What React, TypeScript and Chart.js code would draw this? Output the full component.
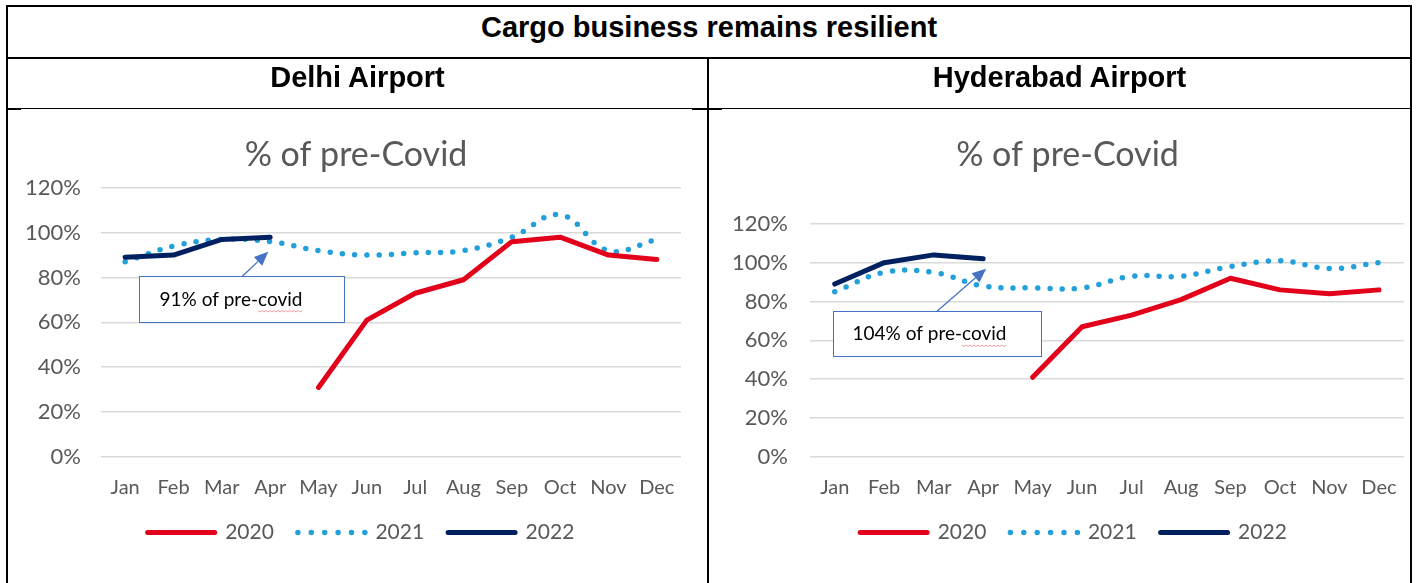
import React, { useEffect, useRef } from 'react';
import { Chart, registerables } from 'chart.js';

Chart.register(...registerables);

// ---------- data ----------
const MONTHS = ['Jan', 'Feb', 'Mar', 'Apr', 'May', 'Jun', 'Jul', 'Aug', 'Sep', 'Oct', 'Nov', 'Dec'];
const YEARS = ['2020', '2021', '2022'];

const DELHI_2020 = [null, null, null, null, 31, 61, 73, 79, 96, 98, 90, 88];
const DELHI_2021 = [87, 94, 97, 96, 92, 90, 91, 92, 98, 108, 92, 97];
const DELHI_2022 = [89, 90, 97, 98, null, null, null, null, null, null, null, null];

const HYD_2020 = [null, null, null, null, 41, 67, 73, 81, 92, 86, 84, 86];
const HYD_2021 = [85, 95, 95, 88, 87, 87, 93, 93, 98, 101, 97, 100];
const HYD_2022 = [89, 100, 104, 102, null, null, null, null, null, null, null, null];

const Y_MIN = 0;
const Y_MAX = 120;
const Y_STEP = 20;

const PAGE_TITLE = 'Cargo business remains resilient';
const PANEL_TITLES = ['Delhi Airport', 'Hyderabad Airport'];
const CHART_TITLE = '% of pre-Covid';
const CALLOUT_TEXTS = ['91% of pre-covid', '104% of pre-covid'];

// ---------- styles ----------
const COLORS = ['#E2001A', '#23A0DA', '#002060'];
const FONT = 'Lato, "Noto Sans", sans-serif';
const GREY = '#595959';
const LEGEND_LINE = 67;

// nudges the title / legend blocks horizontally after layout
const shiftPlugin = {
  id: 'blockShift',
  afterLayout(chart: any, _args: any, opts: any) {
    if (!opts) return;
    if (chart.titleBlock && opts.title) {
      chart.titleBlock.left += opts.title;
      chart.titleBlock.right += opts.title;
    }
    if (chart.legend && opts.legend) {
      chart.legend.left += opts.legend;
      chart.legend.right += opts.legend;
    }
  },
};

const calloutPlugin = {
  id: 'callout',
  afterDatasetsDraw(chart: any, _args: any, opts: any) {
    if (!opts || !opts.text) return;
    const { ctx } = chart;
    const xs = chart.scales.x;
    const ys = chart.scales.y;
    const x0 = Math.round(xs.getPixelForValue(opts.box[0])) + 0.5;
    const x1 = Math.round(xs.getPixelForValue(opts.box[1])) + 0.5;
    const y0 = Math.round(ys.getPixelForValue(opts.box[2])) + 0.5;
    const y1 = Math.round(ys.getPixelForValue(opts.box[3])) + 0.5;
    ctx.save();
    ctx.fillStyle = '#ffffff';
    ctx.fillRect(x0, y0, x1 - x0, y1 - y0);
    ctx.strokeStyle = '#4472C4';
    ctx.lineWidth = 1;
    ctx.strokeRect(x0, y0, x1 - x0, y1 - y0);
    ctx.font = `19px ${FONT}`;
    ctx.fillStyle = '#000000';
    ctx.textBaseline = 'middle';
    ctx.textAlign = 'left';
    const tx = x0 + opts.inset;
    const ty = (y0 + y1) / 2;
    ctx.fillText(opts.text, tx, ty);
    // spell-check squiggle under the last word
    const words = opts.text.split('-');
    const last = words[words.length - 1];
    const startX = tx + ctx.measureText(opts.text.slice(0, opts.text.length - last.length)).width;
    const endX = tx + ctx.measureText(opts.text).width;
    ctx.strokeStyle = '#F4A0A0';
    ctx.lineWidth = 1;
    ctx.beginPath();
    let up = true;
    for (let sx = startX; sx <= endX; sx += 2) {
      const sy = ty + 11 + (up ? 0 : 1.5);
      if (sx === startX) ctx.moveTo(sx, sy); else ctx.lineTo(sx, sy);
      up = !up;
    }
    ctx.stroke();
    // arrow
    const ax = xs.getPixelForValue(opts.arrow[0]);
    const ay = y0;
    const bx = xs.getPixelForValue(opts.arrow[1]);
    const by = ys.getPixelForValue(opts.arrow[2]);
    const ang = Math.atan2(by - ay, bx - ax);
    const headLen = 14;
    const headHalf = 6;
    const hx = bx - headLen * Math.cos(ang);
    const hy = by - headLen * Math.sin(ang);
    ctx.strokeStyle = '#4472C4';
    ctx.fillStyle = '#4472C4';
    ctx.lineWidth = 1.3;
    ctx.beginPath();
    ctx.moveTo(ax, ay);
    ctx.lineTo(hx, hy);
    ctx.stroke();
    ctx.beginPath();
    ctx.moveTo(bx, by);
    ctx.lineTo(hx + headHalf * Math.sin(ang), hy - headHalf * Math.cos(ang));
    ctx.lineTo(hx - headHalf * Math.sin(ang), hy + headHalf * Math.cos(ang));
    ctx.closePath();
    ctx.fill();
    ctx.restore();
  },
};

type Panel = {
  series: (number | null)[][];
  left: number;
  top: number;
  width: number;
  height: number;
  pad: { left: number; right: number; top: number; bottom: number };
  yWidth: number;
  yTickPad: number;
  xTickPad: number;
  xHeight: number;
  titlePad: { top: number; bottom: number };
  shift: { title: number; legend: number };
  callout: any;
};

function buildConfig(p: Panel): any {
  return {
    type: 'line',
    data: {
      labels: MONTHS,
      datasets: YEARS.map((year, i) => ({
        label: year,
        data: p.series[i],
        borderColor: COLORS[i],
        backgroundColor: COLORS[i],
        borderWidth: i === 1 ? 5.5 : 5,
        borderCapStyle: 'round',
        borderJoinStyle: 'round',
        borderDash: i === 1 ? [0, 12.3] : [],
        tension: i === 1 ? 0.4 : 0,
        pointRadius: 0,
        pointHoverRadius: 0,
        fill: false,
        order: i === 2 ? 0 : i === 0 ? 1 : 2,
      })),
    },
    options: {
      animation: false,
      responsive: false,
      devicePixelRatio: 1,
      events: [],
      layout: { padding: p.pad },
      scales: {
        x: {
          type: 'category',
          offset: true,
          afterFit: (s: any) => {
            s.height = p.xHeight;
          },
          grid: { display: false, drawTicks: false },
          border: { display: false },
          ticks: {
            color: GREY,
            padding: p.xTickPad,
            maxRotation: 0,
            autoSkip: false,
            font: { family: FONT, size: 20 },
          },
        },
        y: {
          min: Y_MIN,
          max: Y_MAX,
          afterFit: (s: any) => {
            s.width = p.yWidth;
          },
          grid: { color: '#D9D9D9', lineWidth: 1.6, drawTicks: false },
          border: { display: false },
          ticks: {
            stepSize: Y_STEP,
            color: GREY,
            padding: p.yTickPad,
            font: { family: FONT, size: 22 },
            callback: (v: any) => `${v}%`,
          },
        },
      },
      plugins: {
        title: {
          display: true,
          text: CHART_TITLE,
          color: GREY,
          font: { family: FONT, size: 34, weight: 'normal' },
          padding: p.titlePad,
        },
        legend: {
          display: true,
          position: 'bottom',
          labels: {
            boxWidth: LEGEND_LINE,
            boxHeight: 0,
            color: GREY,
            padding: 24,
            font: { family: FONT, size: 21 },
            generateLabels: (chart: any) =>
              (Chart.defaults.plugins.legend.labels.generateLabels as any)(chart).map((l: any) =>
                l.datasetIndex === 1 ? { ...l, lineDash: [0, LEGEND_LINE / 5] } : l
              ),
            sort: (a: any, b: any) => a.datasetIndex - b.datasetIndex,
          },
        },
        tooltip: { enabled: false },
        callout: p.callout,
        blockShift: p.shift,
      },
    },
    plugins: [shiftPlugin, calloutPlugin],
  };
}

const PANELS: Panel[] = [
  {
    series: [DELHI_2020, DELHI_2021, DELHI_2022],
    left: 8,
    top: 110,
    width: 698,
    height: 473,
    pad: { left: 17, right: 25, top: 0, bottom: 30 },
    yWidth: 76,
    yTickPad: 20,
    xTickPad: 19,
    xHeight: 41,
    titlePad: { top: 25, bottom: 12 },
    shift: { title: 3, legend: 8 },
    callout: { text: CALLOUT_TEXTS[0], box: [0.29, 4.53, 80.8, 60.3], inset: 20, arrow: [2.42, 2.96, 91.5] },
  },
  {
    series: [HYD_2020, HYD_2021, HYD_2022],
    left: 712,
    top: 110,
    width: 704,
    height: 473,
    pad: { left: 22, right: 11, top: 0, bottom: 30 },
    yWidth: 76,
    yTickPad: 22,
    xTickPad: 19,
    xHeight: 41,
    titlePad: { top: 25, bottom: 48 },
    shift: { title: -2, legend: 4 },
    callout: { text: CALLOUT_TEXTS[1], box: [-0.04, 4.17, 74.9, 51.8], inset: 19, arrow: [2.06, 3.06, 96.9] },
  },
];

function LineChart({ panel }: { panel: Panel }) {
  const ref = useRef<HTMLCanvasElement>(null);
  useEffect(() => {
    const chart = new Chart(ref.current as HTMLCanvasElement, buildConfig(panel));
    return () => chart.destroy();
  }, [panel]);
  return (
    <canvas
      ref={ref}
      width={panel.width}
      height={panel.height}
      style={{ position: 'absolute', left: panel.left, top: panel.top, width: panel.width, height: panel.height }}
    />
  );
}

const line = (left: number, top: number, width: number, height: number) => (
  <div style={{ position: 'absolute', left, top, width, height, background: '#000', zIndex: 2 }} />
);

export default function App() {
  const headFont: React.CSSProperties = {
    position: 'absolute',
    fontFamily: '"Liberation Sans", Arial, sans-serif',
    fontWeight: 'bold',
    fontSize: 29,
    color: '#000',
    textAlign: 'center',
    whiteSpace: 'nowrap',
    lineHeight: '40px',
    zIndex: 3,
  };
  return (
    <div style={{ position: 'fixed', left: 0, top: 0, width: 1416, height: 583, background: '#fff', overflow: 'hidden' }}>
      {PANELS.map((p, i) => (
        <LineChart key={i} panel={p} />
      ))}
      {line(6, 5, 1406, 2)}
      {line(6, 5, 2, 578)}
      {line(1410, 5, 2, 578)}
      {line(6, 57, 1406, 2)}
      {line(6, 108, 1406, 1)}
      {line(7, 108, 14, 2)}
      {line(692, 108, 30, 2)}
      {line(707, 57, 2, 526)}
      <div style={{ ...headFont, left: 8, width: 1402, top: 7 }}>{PAGE_TITLE}</div>
      <div style={{ ...headFont, left: 8, width: 699, top: 57 }}>{PANEL_TITLES[0]}</div>
      <div style={{ ...headFont, left: 709, width: 701, top: 57 }}>{PANEL_TITLES[1]}</div>
    </div>
  );
}
